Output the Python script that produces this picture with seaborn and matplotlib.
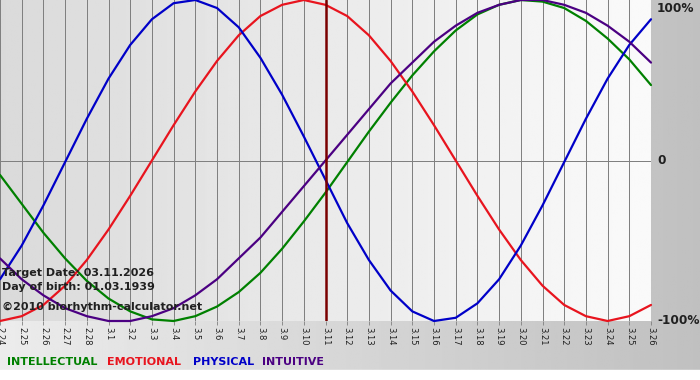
import numpy as np
import matplotlib
matplotlib.use("Agg")
import matplotlib.pyplot as plt
import seaborn as sns

# Days shown on the x axis (month.day)
days = ['2.24', '2.25', '2.26', '2.27', '2.28',
        '3.1', '3.2', '3.3', '3.4', '3.5', '3.6', '3.7', '3.8', '3.9', '3.10',
        '3.11', '3.12', '3.13', '3.14', '3.15', '3.16', '3.17', '3.18', '3.19',
        '3.20', '3.21', '3.22', '3.23', '3.24', '3.25', '3.26']
target_day = '3.11'

# Cycle values (-1 .. 1)
physical = [-0.74, -0.53, -0.28, -0.01, 0.26, 0.51, 0.72, 0.88, 0.98, 1.00,
            0.95, 0.83, 0.64, 0.41, 0.15, -0.12, -0.39, -0.62, -0.81, -0.94,
            -1.00, -0.98, -0.89, -0.74, -0.53, -0.28, -0.01, 0.26, 0.51, 0.72,
            0.88]
emotional = [-1.00, -0.97, -0.90, -0.78, -0.62, -0.43, -0.22, 0.00, 0.22, 0.43,
             0.62, 0.78, 0.90, 0.97, 1.00, 0.97, 0.90, 0.78, 0.62, 0.43,
             0.22, 0.00, -0.22, -0.43, -0.62, -0.78, -0.90, -0.97, -1.00, -0.97,
             -0.90]
intellectual = [-0.09, -0.27, -0.45, -0.61, -0.75, -0.86, -0.94, -0.99, -1.00, -0.97,
                -0.91, -0.82, -0.70, -0.55, -0.38, -0.20, -0.01, 0.18, 0.36, 0.53,
                0.68, 0.81, 0.91, 0.97, 1.00, 0.99, 0.95, 0.87, 0.76, 0.63,
                0.47]
intuitive = [-0.61, -0.74, -0.84, -0.92, -0.97, -1.00, -1.00, -0.97, -0.92, -0.84,
             -0.74, -0.61, -0.48, -0.32, -0.16, 0.00, 0.16, 0.32, 0.48, 0.61,
             0.74, 0.84, 0.92, 0.97, 1.00, 1.00, 0.97, 0.92, 0.84, 0.74,
             0.61]

series_names = ['INTELLECTUAL', 'EMOTIONAL', 'PHYSICAL', 'INTUITIVE']
series_colors = ['#008000', '#e8141e', '#0000c8', '#4b0082']

info_lines = ['Target Date: 03.11.2026',
              'Day of birth: 01.03.1939',
              '\u00a92010 biorhythm-calculator.net']
percent_labels = ['100%', '0', '-100%']

sns.set_theme(style="white")
plt.rcParams['font.family'] = ['DejaVu Sans']

W, H = 700, 380
fig = plt.figure(figsize=(W / 100, H / 100), dpi=100)

# figure background: horizontal light -> gray gradient, white strip at bottom
bg = fig.add_axes([0, 0, 1, 1], zorder=-5)
grad = np.linspace(236, 192, 256)
bg.imshow(np.tile(grad, (2, 1)), cmap='gray', vmin=0, vmax=255, aspect='auto',
          extent=[0, W, H - 370, H])
bg.axhspan(0, H - 370, color='white')
bg.set_xlim(0, W)
bg.set_ylim(0, H)
bg.axis('off')

# plot area
px1, py1 = 651, 321
ax = fig.add_axes([0, 1 - py1 / H, px1 / W, py1 / H])
x = np.arange(len(days))
ax.set_xlim(0, len(days) - 1)
ax.set_ylim(-1, 1)

pgrad = np.linspace(218, 250, 256)
ax.imshow(np.tile(pgrad, (2, 1)), cmap='gray', vmin=0, vmax=255, aspect='auto',
          extent=[0, len(days) - 1, -1, 1], zorder=0)

for xi in x:
    ax.axvline(xi, color='#808080', lw=0.6, zorder=1, antialiased=False)
ax.axhline(0, color='#808080', lw=0.6, zorder=1, antialiased=False)

for vals, col in zip([intellectual, emotional, physical, intuitive],
                     series_colors):
    sns.lineplot(x=x, y=vals, color=col, lw=1.6, ax=ax, zorder=3,
                 clip_on=False)

ax.axvline(days.index(target_day), color='#7a0000', lw=1.8, zorder=4)

for s in ax.spines.values():
    s.set_visible(False)

ax.set_xticks(x)
ax.set_xticklabels(days, rotation=-90, fontsize=6, color='#202020')
ax.tick_params(axis='x', length=3, width=0.6, color='#808080', pad=1.5,
               direction='out', bottom=True)
ax.set_yticks([])

# info text in the lower-left corner of the plot
for txt, yy in zip(info_lines, [273, 287, 307]):
    fig.text(2 / W, 1 - yy / H, txt, fontsize=8, fontweight='bold',
             color='#202020', va='center', ha='left', zorder=10)

# right-hand percent labels
for lab, yy in zip(percent_labels, [8, 161, 321]):
    fig.text(657 / W, 1 - yy / H, lab, fontsize=8.7, fontweight='bold',
             color='#202020', va='center', ha='left')

# legend words at the bottom
for name, col, xx in zip(series_names, series_colors, [7, 107, 193, 262]):
    fig.text(xx / W, 1 - 362 / H, name, fontsize=8, fontweight='bold',
             color=col, va='center', ha='left')

fig.savefig('out.png', dpi=100)
